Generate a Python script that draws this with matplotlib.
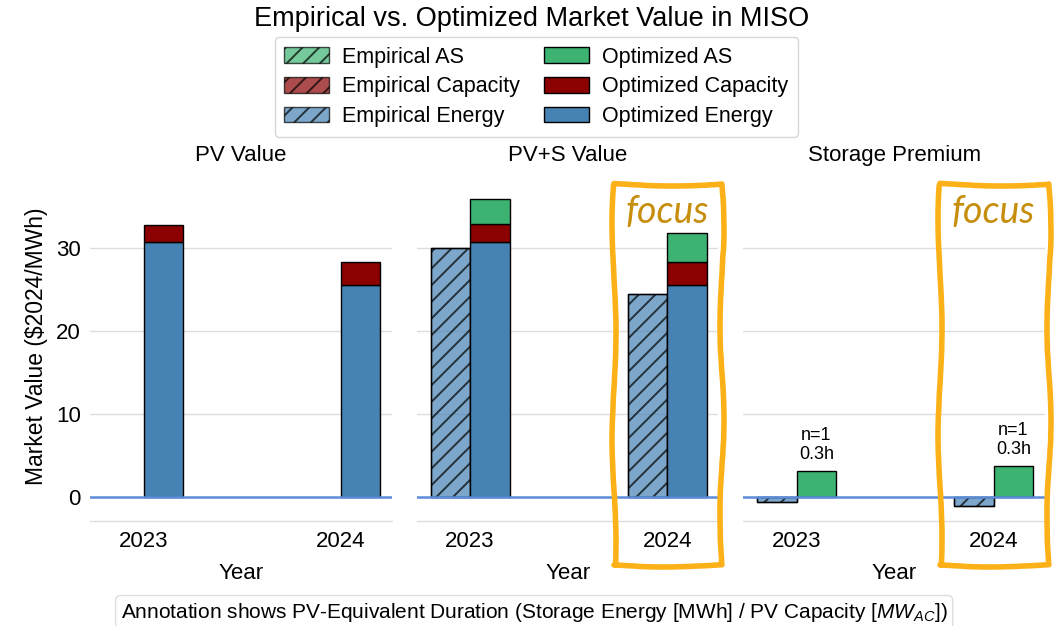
import numpy as np
import matplotlib
matplotlib.use("Agg")
from matplotlib import pyplot as plt
from matplotlib.patches import Patch, Rectangle

plt.rcParams["font.family"] = ["Liberation Sans", "DejaVu Sans"]
plt.rcParams["hatch.linewidth"] = 1.4
plt.rcParams["mathtext.fontset"] = "custom"
plt.rcParams["mathtext.it"] = "Liberation Sans:italic"
plt.rcParams["mathtext.rm"] = "Liberation Sans"

# data
years = ["2023", "2024"]
pv_opt_energy = [30.8, 25.6]
pv_opt_capacity = [2.0, 2.8]
pvs_emp_energy = [30.0, 24.5]
pvs_opt_energy = [30.8, 25.6]
pvs_opt_capacity = [2.1, 2.8]
pvs_opt_as = [3.0, 3.5]
prem_emp_energy = [-0.65, -1.15]
prem_opt_as = [3.1, 3.7]
prem_notes = ["n=1\n0.3h", "n=1\n0.3h"]

C_ENERGY = "#4682B4"
C_CAP = "#8B0000"
C_AS = "#3CB371"
EMP_ALPHA = 0.7
W = 0.2
FS = 16
x = np.arange(len(years))


def emp_bar(ax, xs, vals, color, bottom=None):
    ax.bar(xs - W, vals, W, bottom=bottom, align="edge", color=color, alpha=EMP_ALPHA,
           hatch="//", edgecolor="black", linewidth=1.0, zorder=3)
    ax.bar(xs - W, vals, W, bottom=bottom, align="edge", fill=False,
           edgecolor="black", linewidth=1.0, zorder=3)


def opt_bar(ax, xs, vals, color, bottom=None):
    ax.bar(xs, vals, W, bottom=bottom, align="edge", color=color,
           edgecolor="black", linewidth=1.0, zorder=3)


fig, axes = plt.subplots(1, 3, figsize=(10.64, 6.26), dpi=100, sharey=True)
fig.subplots_adjust(left=0.085, right=0.982, top=0.725, bottom=0.168, wspace=0.083)

# PV value
ax = axes[0]
opt_bar(ax, x, pv_opt_energy, C_ENERGY)
opt_bar(ax, x, pv_opt_capacity, C_CAP, bottom=pv_opt_energy)
ax.set_title("PV Value", fontsize=FS, pad=8)

# PV+S value
ax = axes[1]
emp_bar(ax, x, pvs_emp_energy, C_ENERGY)
opt_bar(ax, x, pvs_opt_energy, C_ENERGY)
opt_bar(ax, x, pvs_opt_capacity, C_CAP, bottom=pvs_opt_energy)
opt_bar(ax, x, pvs_opt_as, C_AS, bottom=np.add(pvs_opt_energy, pvs_opt_capacity))
ax.set_title("PV+S Value", fontsize=FS, pad=8)

# storage premium
ax = axes[2]
emp_bar(ax, x, prem_emp_energy, C_ENERGY)
opt_bar(ax, x, prem_opt_as, C_AS)
for xi, v, note in zip(x, prem_opt_as, prem_notes):
    ax.annotate(note, (xi + W / 2, v), xytext=(0, 6), textcoords="offset points",
                ha="center", va="bottom", fontsize=13, linespacing=1.15)
ax.set_title("Storage Premium", fontsize=FS, pad=8)

for i, ax in enumerate(axes):
    ax.axhline(0, color="#5B8DDB", linewidth=1.8, zorder=4)
    ax.set_xticks(x)
    ax.set_xticklabels(years, fontsize=FS)
    ax.set_xlim(-0.27, 1.26)
    ax.set_ylim(-2.9, 39.2)
    ax.set_yticks([0, 10, 20, 30])
    ax.tick_params(axis="both", length=0, labelsize=FS, pad=7)
    ax.grid(axis="y", color="#DDDDDD", linewidth=1.0, zorder=0)
    for s in ["top", "right", "left"]:
        ax.spines[s].set_visible(False)
    ax.spines["bottom"].set_color("#DDDDDD")
    ax.spines["bottom"].set_linewidth(1.0)
    ax.set_xlabel("Year", fontsize=FS, labelpad=8)
axes[0].set_ylabel("Market Value ($2024/MWh)", fontsize=16.5, labelpad=6)

# focus boxes around the 2024 bars
for ax in axes[1:]:
    box = Rectangle((0.73, -8.2), 0.55, 46.0, fill=False, edgecolor="#FBB117",
                    linewidth=4, clip_on=False, zorder=6, joinstyle="round")
    box.set_sketch_params(scale=2.0, length=250, randomness=3)
    ax.add_patch(box)
    ax.text(1.0, 34.4, "focus", ha="center", va="center", fontsize=27,
            color="#C68E0C", family=["Lato", "DejaVu Sans"], style="italic",
            weight="normal", zorder=7)

handles = [
    Patch(facecolor=C_AS, alpha=EMP_ALPHA, hatch="//", edgecolor="black", label="Empirical AS"),
    Patch(facecolor=C_CAP, alpha=EMP_ALPHA, hatch="//", edgecolor="black", label="Empirical Capacity"),
    Patch(facecolor=C_ENERGY, alpha=EMP_ALPHA, hatch="//", edgecolor="black", label="Empirical Energy"),
    Patch(facecolor=C_AS, edgecolor="black", label="Optimized AS"),
    Patch(facecolor=C_CAP, edgecolor="black", label="Optimized Capacity"),
    Patch(facecolor=C_ENERGY, edgecolor="black", label="Optimized Energy"),
]
fig.legend(handles=handles, loc="upper center", bbox_to_anchor=(0.504, 0.958), ncol=2,
           fontsize=15.5, frameon=True, edgecolor="#CCCCCC", handlelength=2.1,
           handleheight=0.75, handletextpad=0.6, columnspacing=1.1,
           labelspacing=0.4, borderpad=0.45)

fig.suptitle("Empirical vs. Optimized Market Value in MISO", fontsize=19.5, y=0.99)

fig.text(0.502, 0.022,
         "Annotation shows PV-Equivalent Duration (Storage Energy [MWh] / PV Capacity [$MW_{AC}$])",
         ha="center", va="center", fontsize=15,
         bbox=dict(boxstyle="round,pad=0.25", facecolor="white", edgecolor="#DDDDDD"))

fig.savefig("out.png", dpi=100)
